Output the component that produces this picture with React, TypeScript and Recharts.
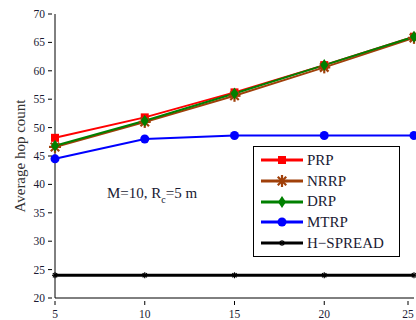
import { Line, LineChart, XAxis, YAxis } from "recharts";

const NODES = [5, 10, 15, 20, 25];
const PRP = [48.2, 51.8, 56.2, 61.0, 66.0];
const NRRP = [46.6, 51.0, 55.6, 60.6, 65.8];
const DRP = [46.8, 51.2, 56.0, 61.0, 66.0];
const MTRP = [44.5, 48.0, 48.6, 48.6, 48.6];
const HSPREAD = [24, 24, 24, 24, 24];
const X_TICKS = [5, 10, 15, 20, 25];
const Y_TICKS = [20, 25, 30, 35, 40, 45, 50, 55, 60, 65, 70];

const rows = NODES.map((n, i) => ({
  n,
  prp: PRP[i],
  nrrp: NRRP[i],
  drp: DRP[i],
  mtrp: MTRP[i],
  hspread: HSPREAD[i],
}));

const FONT = "'Liberation Serif', 'DejaVu Serif', serif";

// marker shapes, roughly like matlab's
function Square({ cx, cy, color }: any) {
  return <rect x={cx - 4} y={cy - 4} width={8} height={8} fill={color} />;
}
function Star({ cx, cy, color, r = 6, w = 2.2 }: any) {
  const arms = [0, 45, 90, 135].map((a) => {
    const rad = (a * Math.PI) / 180;
    const dx = Math.cos(rad) * r;
    const dy = Math.sin(rad) * r;
    return <line key={a} x1={cx - dx} y1={cy - dy} x2={cx + dx} y2={cy + dy} stroke={color} strokeWidth={w} />;
  });
  return <g>{arms}</g>;
}
function Diamond({ cx, cy, color }: any) {
  return <path d={`M${cx},${cy - 6}L${cx + 4},${cy}L${cx},${cy + 6}L${cx - 4},${cy}Z`} fill={color} />;
}
function Circle({ cx, cy, color }: any) {
  return <circle cx={cx} cy={cy} r={4.5} fill={color} />;
}
function Asterisk({ cx, cy, color }: any) {
  return <Star cx={cx} cy={cy} color={color} r={3} w={1.2} />;
}

const SERIES = [
  { key: "prp", name: "PRP", color: "#ff0000", width: 2, Marker: Square },
  { key: "nrrp", name: "NRRP", color: "#a0400a", width: 2, Marker: Star },
  { key: "drp", name: "DRP", color: "#008000", width: 2, Marker: Diamond },
  { key: "mtrp", name: "MTRP", color: "#0000ff", width: 2, Marker: Circle },
  { key: "hspread", name: "H\u2212SPREAD", color: "#000000", width: 3, Marker: Asterisk },
];

function BottomTick({ x, y, payload }: any) {
  return (
    <g>
      <line x1={x} y1={y - 1} x2={x} y2={y - 5} stroke="#000" />
      <text x={x} y={y + 12} textAnchor="middle" fontSize={11.5} fontFamily={FONT} fill="#1a1a33">
        {payload.value}
      </text>
    </g>
  );
}
function TopTick({ x, y }: any) {
  return <line x1={x} y1={y + 1} x2={x} y2={y + 5} stroke="#000" />;
}
function LeftTick({ x, y, payload }: any) {
  return (
    <g>
      <line x1={x + 1} y1={y} x2={x + 5} y2={y} stroke="#000" />
      <text x={x - 2} y={y + 4} textAnchor="end" fontSize={11.5} fontFamily={FONT} fill="#1a1a33">
        {payload.value}
      </text>
    </g>
  );
}
function RightTick({ x, y }: any) {
  return <line x1={x - 1} y1={y} x2={x - 5} y2={y} stroke="#000" />;
}

function LegendBox() {
  return (
    <div
      style={{
        position: "absolute",
        left: 253,
        top: 146,
        width: 147,
        height: 111,
        boxSizing: "border-box",
        border: "1px solid #000",
        background: "#fff",
        paddingTop: 3,
        fontFamily: FONT,
        fontSize: 15,
        lineHeight: "20.7px",
      }}
    >
      {SERIES.map((s) => (
        <div key={s.key} style={{ display: "flex", alignItems: "center", height: 20.7 }}>
          <svg width={46} height={20} style={{ display: "block", marginLeft: 7 }}>
            <line x1={0} y1={10} x2={42} y2={10} stroke={s.color} strokeWidth={3} />
            <s.Marker cx={21} cy={10} color={s.color} />
          </svg>
          <span style={{ color: "#1a1a33" }}>{s.name}</span>
        </div>
      ))}
    </div>
  );
}

export default function App() {
  return (
    <div style={{ position: "absolute", left: 0, top: 0, width: 416, height: 320, background: "#fff" }}>
      <LineChart width={416} height={320} data={rows} margin={{ top: 14, right: 2, bottom: 0, left: 0 }}>
        <XAxis
          xAxisId="b"
          dataKey="n"
          type="number"
          domain={[5, 25]}
          ticks={X_TICKS}
          height={22}
          tickLine={false}
          tick={<BottomTick />}
          axisLine={{ stroke: "#000" }}
        />
        <XAxis
          xAxisId="t"
          orientation="top"
          dataKey="n"
          type="number"
          domain={[5, 25]}
          ticks={X_TICKS}
          height={0}
          tickLine={false}
          tick={<TopTick />}
          axisLine={{ stroke: "#000" }}
        />
        <YAxis
          yAxisId="l"
          type="number"
          domain={[20, 70]}
          ticks={Y_TICKS}
          width={55}
          tickLine={false}
          tick={<LeftTick />}
          axisLine={{ stroke: "#000" }}
          label={{
            value: "Average hop count",
            angle: -90,
            position: "insideLeft",
            offset: 20,
            style: { fontFamily: FONT, fontSize: 15, fill: "#333", textAnchor: "middle" },
          }}
        />
        <YAxis
          yAxisId="r"
          orientation="right"
          type="number"
          domain={[20, 70]}
          ticks={Y_TICKS}
          width={0}
          tickLine={false}
          tick={<RightTick />}
          axisLine={{ stroke: "#000" }}
        />
        {SERIES.map((s) => (
          <Line
            key={s.key}
            xAxisId="b"
            yAxisId="l"
            dataKey={s.key}
            name={s.name}
            stroke={s.color}
            strokeWidth={s.width}
            isAnimationActive={false}
            dot={(p: any) => <s.Marker key={p.index} cx={p.cx} cy={p.cy} color={s.color} />}
            activeDot={false}
          />
        ))}
      </LineChart>
      <LegendBox />
      <div
        style={{
          position: "absolute",
          left: 107,
          top: 186,
          fontFamily: FONT,
          fontSize: 15,
          lineHeight: "15px",
          color: "#1a1a33",
          whiteSpace: "nowrap",
        }}
      >
        M=10, R<sub style={{ fontSize: 10, verticalAlign: -5 }}>c</sub>=5 m
      </div>
    </div>
  );
}
